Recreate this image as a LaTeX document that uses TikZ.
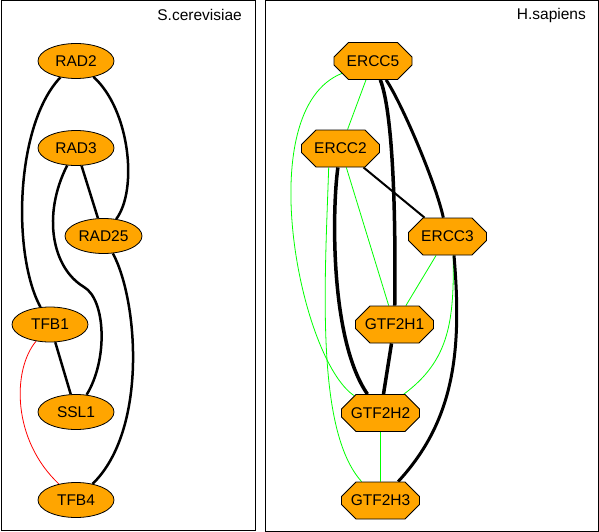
\documentclass[tikz,border=0pt]{standalone}
\usepackage{fontspec}
\setmainfont{Liberation Sans}
\usetikzlibrary{shapes.geometric,shapes.misc,backgrounds}
\definecolor{nodeorange}{HTML}{FFA500}

\begin{document}
\begin{tikzpicture}[x=1pt,y=-1pt,
	yeast/.style={ellipse,draw=black,line width=0.8pt,fill=nodeorange,minimum width=76pt,minimum height=35pt,inner sep=0pt,font=\fontsize{15.5}{18}\selectfont},
	human/.style={chamfered rectangle,chamfered rectangle xsep=11pt,chamfered rectangle ysep=9pt,draw=black,line width=0.8pt,fill=nodeorange,minimum width=78pt,minimum height=37pt,inner sep=0pt,font=\fontsize{15.5}{18}\selectfont},
	species/.style={anchor=east,inner sep=0pt,font=\fontsize{15.5}{18}\selectfont},
	strong/.style={black,line width=2.5pt},
	weak/.style={green,line width=0.8pt}]
		\useasboundingbox (0,0) rectangle (599,532);

		\draw [line width=1pt] (1,1) rectangle (255,530);
		\draw [line width=1pt] (265,1) rectangle (598,531);

		\node[species] (cerevisiae) at (242,15) {S.cerevisiae};
		\node[species] (sapiens) at (586,15) {H.sapiens};

		\node[yeast] (rad2) at (76,61) {RAD2};
		\node[yeast] (rad3) at (76,148) {RAD3};
		\node[yeast,minimum width=77pt] (rad25) at (103.5,236) {RAD25};
		\node[yeast] (tfb1) at (50,324.5) {TFB1};
		\node[yeast] (ssl1) at (76,412) {SSL1};
		\node[yeast] (tfb4) at (76,500) {TFB4};

		\node[human] (ercc5) at (373,61) {ERCC5};
		\node[human] (ercc2) at (340.5,148.5) {ERCC2};
		\node[human] (ercc3) at (447.5,236.5) {ERCC3};
		\node[human] (gtf2h1) at (394.5,324.5) {GTF2H1};
		\node[human] (gtf2h2) at (380.5,413) {GTF2H2};
		\node[human] (gtf2h3) at (380.5,500.5) {GTF2H3};

		\begin{scope}[on background layer]
		\draw [strong] (rad2) .. controls (15,125) and (12,255) .. (tfb1);
		\draw [strong] (rad2) .. controls (130,110) and (138,190) .. (rad25);
		\draw [strong] (rad3) -- (rad25);
		\draw [strong] (rad3) .. controls (42,215) and (52,268) .. (84,287) .. controls (106,300) and (108,360) .. (ssl1);
		\draw [strong] (tfb1) -- (ssl1);
		\draw [strong] (rad25) .. controls (138,300) and (148,430) .. (tfb4);
		\draw [red,line width=0.8pt] (tfb1) .. controls (12,370) and (12,440) .. (tfb4);

		\draw [weak] (ercc5) -- (ercc2);
		\draw [strong,line width=3.5pt] (ercc5) .. controls (392,110) and (396,200) .. (gtf2h1);
		\draw [strong,line width=3pt] (ercc5) .. controls (400,100) and (435,180) .. (ercc3);
		\draw [weak] (ercc5) .. controls (250,110) and (300,360) .. (gtf2h2);
		\draw [strong,line width=2pt] (ercc2) -- (ercc3);
		\draw [weak] (ercc2) -- (gtf2h1);
		\draw [strong,line width=3.5pt] (ercc2) .. controls (332,210) and (330,340) .. (gtf2h2);
		\draw [weak] (ercc2.238) .. controls (325,280) and (315,430) .. (gtf2h3.135);
		\draw [weak] (ercc3) -- (gtf2h1);
		\draw [weak] (ercc3.287) .. controls (454,320) and (450,360) .. (gtf2h2.39);
		\draw [strong,line width=3pt] (ercc3.289) .. controls (462,350) and (455,420) .. (gtf2h3.47);
		\draw [strong,line width=3.5pt] (gtf2h1) -- (gtf2h2);
		\draw [weak] (gtf2h2) -- (gtf2h3);
		\end{scope}
	\end{tikzpicture}
\end{document}
